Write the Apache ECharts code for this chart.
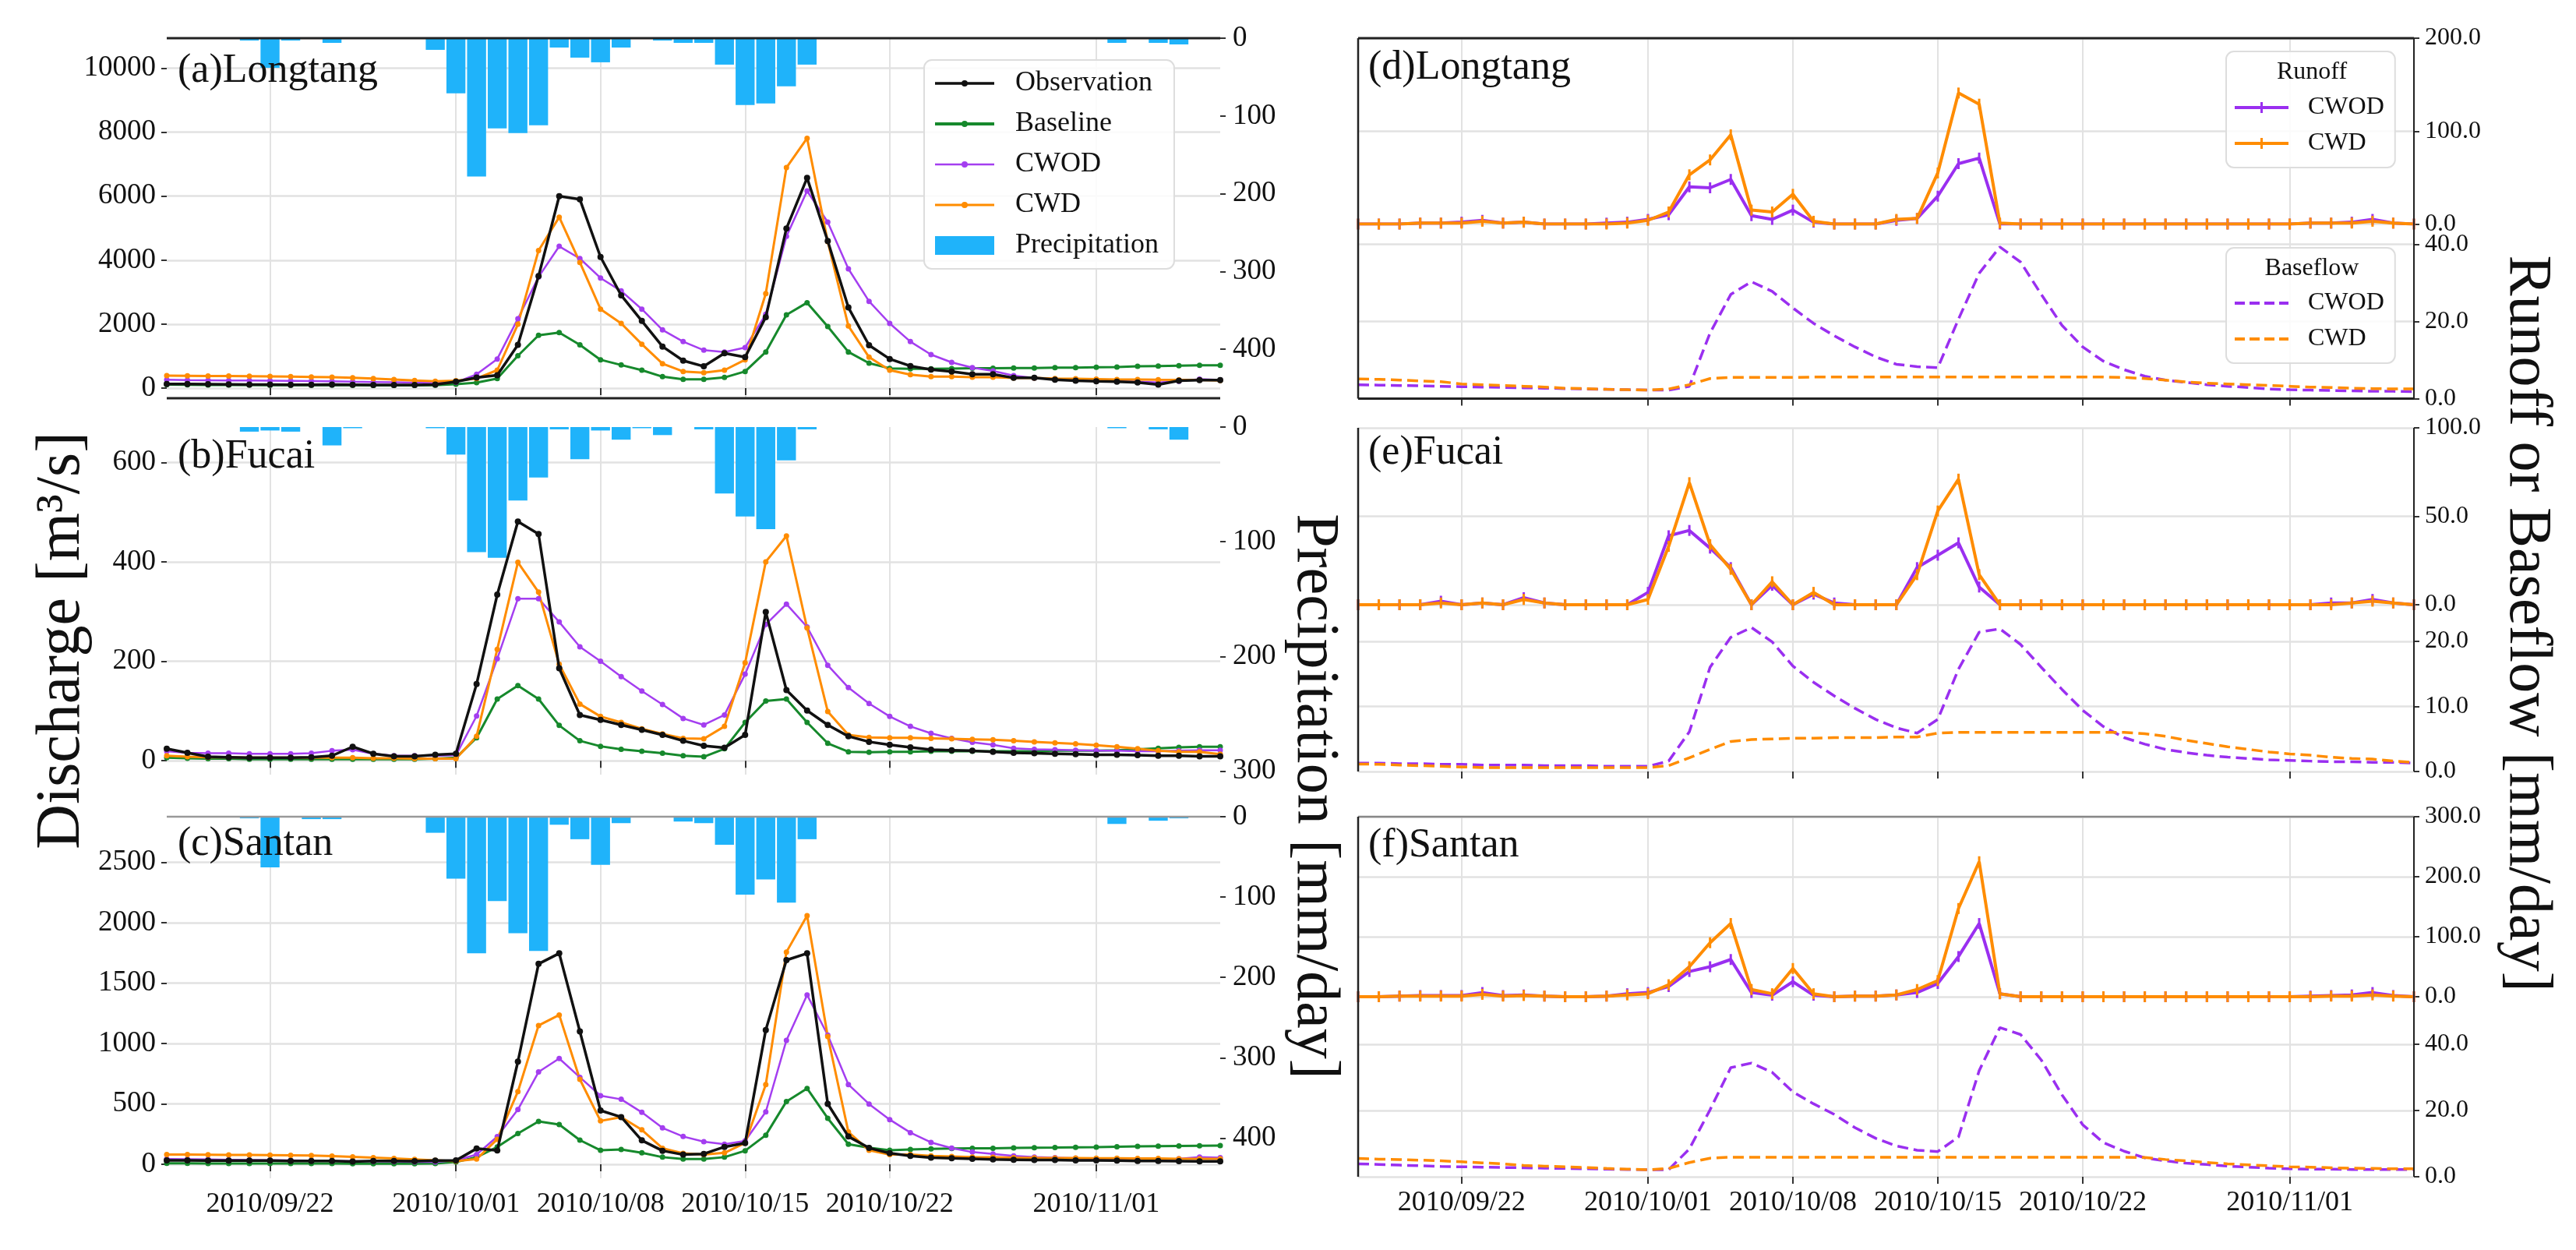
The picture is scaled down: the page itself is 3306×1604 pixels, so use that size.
<!DOCTYPE html>
<html>
<head>
<meta charset="utf-8">
<title>Longtang / Fucai / Santan</title>
<script src="https://cdn.jsdelivr.net/npm/echarts@6.0.0/dist/echarts.min.js"></script>
<style>
  html, body { margin: 0; padding: 0; background: #fff; }
  #main { width: 3306px; height: 1604px; }
</style>
</head>
<body>
<div id="main"></div>
<script>
// ---- data (daily, 2010/09/17 .. 2010/11/07) ----
const dates = [
  '2010/09/17','2010/09/18','2010/09/19','2010/09/20','2010/09/21','2010/09/22','2010/09/23',
  '2010/09/24','2010/09/25','2010/09/26','2010/09/27','2010/09/28','2010/09/29','2010/09/30',
  '2010/10/01','2010/10/02','2010/10/03','2010/10/04','2010/10/05','2010/10/06','2010/10/07',
  '2010/10/08','2010/10/09','2010/10/10','2010/10/11','2010/10/12','2010/10/13','2010/10/14',
  '2010/10/15','2010/10/16','2010/10/17','2010/10/18','2010/10/19','2010/10/20','2010/10/21',
  '2010/10/22','2010/10/23','2010/10/24','2010/10/25','2010/10/26','2010/10/27','2010/10/28',
  '2010/10/29','2010/10/30','2010/10/31','2010/11/01','2010/11/02','2010/11/03','2010/11/04',
  '2010/11/05','2010/11/06','2010/11/07'
];
const tickDates = ['2010/09/22','2010/10/01','2010/10/08','2010/10/15','2010/10/22','2010/11/01'];

// (a) Longtang discharge [m3/s] and precipitation [mm/day]
const obsA  = [130,125,120,115,110,110,105,105,110,105,100,100,100,110,200,330,400,1350,3500,6000,5900,4100,2900,2100,1300,860,680,1090,970,2220,4990,6570,4600,2520,1340,910,690,580,520,430,430,320,320,260,230,210,200,175,110,230,250,250];
const baseA = [110,105,100,95,95,90,90,90,95,90,85,85,85,90,120,170,300,1010,1650,1735,1350,885,722,560,357,276,276,333,520,1129,2290,2670,1925,1129,780,617,600,600,610,620,620,630,630,640,640,650,660,680,690,700,710,710];
const cwodA = [260,250,245,240,235,230,225,220,215,200,190,180,170,165,180,430,909,2170,3474,4433,4051,3443,3037,2468,1819,1453,1185,1129,1267,2307,4742,6164,5189,3727,2712,2022,1453,1047,804,641,536,390,317,280,256,230,215,200,175,212,280,256];
const cwdA  = [390,385,380,375,370,365,360,350,340,320,300,270,240,215,230,300,560,1997,4302,5345,3930,2468,2022,1372,763,520,479,560,885,2955,6894,7812,4580,1941,966,560,422,357,357,341,341,317,317,300,290,280,270,265,260,256,256,240];
const rainA = [0,0,0,0,3,38,3,0,6,0,0,0,0,15,71,178,116,122,112,12,25,31,12,0,3,6,6,34,86,84,62,34,0,0,0,0,0,0,0,0,0,0,0,0,0,0,6,0,6,8,0,0];

// (b) Fucai
const obsB  = [24,16,8,7,6,6,6,7,10,28,14,9,9,12,14,154,334,481,456,186,92,82,72,62,52,40,30,26,52,299,142,101,72,49,38,32,27,22,21,20,18,16,15,14,13,12,12,11,10,10,9,9];
const baseB = [6,5,4,4,3,3,3,3,3,3,3,3,3,4,6,46,124,151,124,71,40,29,23,19,15,10,8,24,77,120,124,77,35,18,17,18,18,19,19,19,19,19,19,20,20,20,21,23,25,27,28,28];
const cwodB = [19,16,15,15,14,14,14,15,20,22,14,10,10,10,11,90,205,326,326,279,229,200,169,140,113,85,72,92,174,274,315,269,192,147,115,89,69,55,45,37,32,25,23,22,21,20,20,19,19,20,21,21];
const cwdB  = [10,8,7,7,6,6,6,6,6,6,5,5,4,4,4,49,224,399,339,194,114,89,77,64,54,45,44,69,197,400,452,267,99,52,47,46,46,45,44,43,42,40,38,36,34,31,28,24,20,18,18,13];
const rainB = [0,0,0,0,4,3,4,0,16,1,0,0,0,1,24,109,114,64,44,2,28,3,11,1,7,0,2,58,78,89,29,2,0,0,0,0,0,0,0,0,0,0,0,0,0,0,1,0,2,11,0,0];

// (c) Santan
const obsC  = [32,32,30,30,30,30,28,28,28,22,28,28,26,30,32,130,115,850,1659,1746,1100,445,391,198,112,80,86,144,176,1112,1690,1746,500,230,135,92,70,55,50,45,40,38,36,35,33,32,30,28,27,26,25,25];
const baseC = [8,8,7,7,6,6,6,6,6,5,5,5,5,6,19,58,143,255,355,329,200,116,123,95,59,43,43,59,112,241,520,628,381,166,137,116,123,128,130,132,133,135,137,138,140,142,145,148,150,152,154,155];
const cwodC = [43,42,40,38,36,34,32,30,28,26,24,22,20,19,32,81,229,453,764,876,720,568,538,430,301,230,187,166,194,434,1026,1402,1069,660,499,370,262,181,134,101,86,70,60,55,50,45,45,40,40,45,60,55];
const cwdC  = [80,80,79,78,77,76,75,72,68,62,55,48,40,32,26,43,207,602,1149,1236,703,359,391,285,133,91,80,95,176,660,1757,2058,1058,267,116,80,80,70,65,60,58,55,53,52,51,50,50,48,48,46,45,45];
const rainC = [0,0,0,0,2,63,1,3,3,0,0,0,1,20,77,170,105,145,167,10,28,60,8,0,1,6,8,35,97,78,107,28,0,1,0,0,0,0,0,0,0,0,0,0,0,0,9,0,5,2,0,0];

// (d)-(f) runoff and baseflow [mm/day]
const runCwodD  = [0,0,0,1,1,2,4,1,2,0,0,0,1,2,5,10,40,39,48,9,5,15,2,0,0,0,4,6,30,65,71,0,0,0,0,0,0,0,0,0,0,0,0,0,0,0,1,1,2,5,1,0];
const runCwdD   = [0,0,0,1,1,1,3,1,2,0,0,0,0,1,4,13,53,69,96,15,13,32,3,0,0,0,5,6,55,141,129,1,0,0,0,0,0,0,0,0,0,0,0,0,0,0,1,1,1,3,1,0];
const baseCwodD = [3.6,3.5,3.4,3.3,3.2,3.1,3.0,2.9,2.8,2.7,2.6,2.5,2.4,2.3,2.2,2.2,3.2,17,27,30.3,27.8,23.5,19.5,16.3,13.4,10.8,8.9,8.3,8.0,20.6,32.5,39.3,35.4,27,19,13.4,9.7,7.5,5.8,4.8,4.2,3.6,3.2,2.9,2.5,2.3,2.2,2.1,2.0,1.9,1.9,1.8];
const baseCwdD  = [5.1,5.0,4.8,4.6,4.4,3.8,3.6,3.4,3.2,3.0,2.7,2.6,2.4,2.3,2.2,2.5,3.6,5.2,5.5,5.5,5.5,5.5,5.6,5.6,5.6,5.6,5.6,5.6,5.6,5.6,5.6,5.6,5.6,5.6,5.6,5.6,5.6,5.5,5.2,4.8,4.3,4.0,3.8,3.6,3.4,3.2,3.0,2.9,2.7,2.6,2.5,2.5];

const runCwodE  = [0,0,0,0,2,0,1,0,4,1,0,0,0,0,7,39,42,32,21,0,11,0,6,1,0,0,0,21,28,35,10,0,0,0,0,0,0,0,0,0,0,0,0,0,0,0,0,1,1,3,1,0];
const runCwdE   = [0,0,0,0,1,0,1,0,3,1,0,0,0,0,3,33,69,34,20,0,13,0,7,0,0,0,0,17,53,71,17,0,0,0,0,0,0,0,0,0,0,0,0,0,0,0,0,0,1,2,1,0];
const baseCwodE = [1.3,1.3,1.2,1.2,1.1,1.1,1.0,1.0,1.0,0.9,0.9,0.9,0.8,0.8,0.8,1.6,6.1,16,20.6,22.1,19.9,16.2,13.7,11.6,9.7,8.0,6.7,5.9,8.0,15.7,21.4,21.9,19.5,16,12.6,9.4,6.9,5.2,4.2,3.4,2.9,2.5,2.2,2.0,1.8,1.7,1.6,1.5,1.5,1.4,1.4,1.3];
const baseCwdE  = [1.15,1.1,1.0,0.9,0.8,0.7,0.6,0.6,0.6,0.6,0.6,0.6,0.6,0.6,0.6,0.9,2.1,3.4,4.6,4.9,5.0,5.1,5.1,5.2,5.2,5.2,5.3,5.3,5.9,6.0,6.0,6.0,6.0,6.0,6.0,6.0,6.0,6.0,5.8,5.4,4.8,4.3,3.8,3.4,3.0,2.7,2.5,2.2,2.0,1.9,1.6,1.4];

const runCwodF  = [0,0,1,2,2,2,7,2,3,1,0,0,1,5,7,17,42,50,62,7,2.5,25,2.5,0,1,1,3,7,22,67,122,5,0,0,0,0,0,0,0,0,0,0,0,0,0,0,1,2,3,7,2,0];
const runCwdF   = [0,0,1,1,1,1,4,1,2,1,0,0,1,3,5,20,50,90,122,12,5,47,5,0,1,1,3,12,27,147,225,5,0,0,0,0,0,0,0,0,0,0,0,0,0,0,0,1,1,3,1,0];
const baseCwodF = [3.9,3.7,3.5,3.3,3.1,3.0,2.9,2.8,2.7,2.6,2.5,2.4,2.3,2.2,2.1,2.1,8.4,20.2,32.9,34.3,31.5,25.6,22,18.8,14.8,11.6,9.3,8.0,7.6,12,32,45,42.9,35.2,24.7,15.7,10.3,7.7,5.7,4.8,4.1,3.7,3.2,2.9,2.6,2.4,2.3,2.3,2.2,2.2,2.2,2.2];
const baseCwdF  = [5.5,5.3,5.2,5.0,4.8,4.5,4.2,3.9,3.4,3.2,3.0,2.8,2.5,2.3,2.1,2.5,4.3,5.6,5.9,5.9,5.9,5.9,5.9,5.9,5.9,5.9,5.9,5.9,5.9,5.9,5.9,5.9,5.9,5.9,5.9,5.9,5.9,5.9,5.8,5.2,4.8,4.3,3.9,3.6,3.3,3.0,2.9,2.7,2.6,2.5,2.4,2.4];

// tick values
const qTicksA = [0, 2000, 4000, 6000, 8000, 10000];
const qTicksB = [0, 200, 400, 600];
const qTicksC = [0, 500, 1000, 1500, 2000, 2500];
const rainTicksA = [0, 100, 200, 300, 400];
const rainTicksB = [0, 100, 200, 300];
const rainTicksC = [0, 100, 200, 300, 400];

// ---- layout ----
const FONT = '"Liberation Serif", "Times New Roman", serif';
const INK = '#111';
const GRIDC = '#e2e2e2';
const COL = { obs: '#111111', base: '#16892c', cwod: '#a43ef0', cwd: '#ff8c00', rain: '#1fb3fa', rCwod: '#9a2ff0', rCwd: '#ff8c00' };
const LX = 214, LW = 1352;       // left column
const RX = 1743, RW = 1355;      // right column

const leftPanels = [
  { title: '(a)Longtang', top: 49,   bottom: 511,  q: [-317, 10940], qTicks: qTicksA, rainMax: 463, rainTicks: rainTicksA,
    obs: obsA, base: baseA, cwod: cwodA, cwd: cwdA, rain: rainA },
  { title: '(b)Fucai',    top: 548,  bottom: 994,  q: [-28, 671],    qTicks: qTicksB, rainMax: 303, rainTicks: rainTicksB,
    obs: obsB, base: baseB, cwod: cwodB, cwd: cwdB, rain: rainB },
  { title: '(c)Santan',   top: 1048, bottom: 1512, q: [-116, 2877],  qTicks: qTicksC, rainMax: 450, rainTicks: rainTicksC,
    obs: obsC, base: baseC, cwod: cwodC, cwd: cwdC, rain: rainC }
];
const rightPanels = [
  { title: '(d)Longtang', top: 49,   mid: 287.5, bottom: 511.5, runMax: 200, runTicks: [0, 100, 200], baseMax: 45.25, baseTicks: [0, 20, 40],
    runCwod: runCwodD, runCwd: runCwdD, baseCwod: baseCwodD, baseCwd: baseCwdD },
  { title: '(e)Fucai',    top: 549,  mid: 776,   bottom: 990,   runMax: 100, runTicks: [0, 50, 100], baseMax: 25.6, baseTicks: [0, 10, 20],
    runCwod: runCwodE, runCwd: runCwdE, baseCwod: baseCwodE, baseCwd: baseCwdE },
  { title: '(f)Santan',   top: 1048, mid: 1279,  bottom: 1510,  runMax: 300, runTicks: [0, 100, 200, 300], baseMax: 54.3, baseTicks: [0, 20, 40],
    runCwod: runCwodF, runCwd: runCwdF, baseCwod: baseCwodF, baseCwd: baseCwdF }
];

const isTick = (i, v) => tickDates.indexOf(v) !== -1;
const tickLine = { color: '#333', width: 2 };

function xAxisCfg(gi, showTicks, showLabels) {
  return {
    type: 'category', gridIndex: gi, data: dates, boundaryGap: false,
    axisLine: { show: false },
    axisTick: { show: showTicks, interval: isTick, length: 9, lineStyle: tickLine },
    axisLabel: { show: showLabels, interval: isTick, margin: 16, fontFamily: FONT, fontSize: 36, color: INK },
    splitLine: { show: true, interval: isTick, lineStyle: { color: GRIDC, width: 2 } }
  };
}
function yValue(gi, pos, lo, hi, ticks, opts) {
  opts = opts || {};
  return {
    type: 'value', gridIndex: gi, position: pos, min: lo, max: hi, inverse: !!opts.inverse,
    axisLine: { show: false },
    axisTick: { show: true, length: 7, customValues: ticks, lineStyle: tickLine },
    axisLabel: { customValues: ticks, margin: opts.margin || 14, fontFamily: FONT, fontSize: opts.fontSize || 37, color: INK,
                 formatter: opts.formatter || (v => String(v)) },
    splitLine: { show: !!opts.split, lineStyle: { color: GRIDC, width: 2.5 } }
  };
}
function lineSeries(name, data, gi, yi, color, width, extra) {
  return Object.assign({
    type: 'line', name: name, data: data, xAxisIndex: gi, yAxisIndex: yi,
    symbol: 'circle', symbolSize: 8, showSymbol: true,
    lineStyle: { color: color, width: width }, itemStyle: { color: color },
    emphasis: { disabled: true }, z: 3
  }, extra || {});
}

const grids = [], xAxes = [], yAxes = [], series = [];

leftPanels.forEach((p, k) => {
  const gi = grids.length;
  grids.push({ left: LX, width: LW, top: p.top, height: p.bottom - p.top });
  xAxes.push(xAxisCfg(gi, true, k === 2));
  const yi = yAxes.length;
  yAxes.push(yValue(gi, 'left', p.q[0], p.q[1], p.qTicks, { split: true }));
  yAxes.push(yValue(gi, 'right', 0, p.rainMax, p.rainTicks, { inverse: true, margin: 16 }));
  series.push({
    type: 'bar', name: 'Precipitation', data: p.rain, xAxisIndex: gi, yAxisIndex: yi + 1,
    barWidth: '92%', itemStyle: { color: COL.rain }, emphasis: { disabled: true }, z: 1
  });
  series.push(lineSeries('Observation', p.obs, gi, yi, COL.obs, 3.5, { z: 4 }));
  series.push(lineSeries('Baseline', p.base, gi, yi, COL.base, 3, { symbolSize: 7 }));
  series.push(lineSeries('CWOD', p.cwod, gi, yi, COL.cwod, 2.5, { symbolSize: 7 }));
  series.push(lineSeries('CWD', p.cwd, gi, yi, COL.cwd, 3, { symbolSize: 7 }));
});

const fmt1 = v => v.toFixed(1);
rightPanels.forEach((p, k) => {
  // runoff (upper part)
  const g1 = grids.length;
  grids.push({ left: RX, width: RW, top: p.top, height: p.mid - p.top });
  xAxes.push(xAxisCfg(g1, false, false));
  const y1 = yAxes.length;
  yAxes.push(yValue(g1, 'right', 0, p.runMax, p.runTicks, { split: true, fontSize: 32, formatter: fmt1 }));
  const tickMark = { symbol: 'rect', symbolSize: [3, 14] };
  series.push(lineSeries('CWOD runoff', p.runCwod, g1, y1, COL.rCwod, 4, tickMark));
  series.push(lineSeries('CWD runoff', p.runCwd, g1, y1, COL.rCwd, 4, tickMark));
  // baseflow (lower part)
  const g2 = grids.length;
  grids.push({ left: RX, width: RW, top: p.mid, height: p.bottom - p.mid });
  xAxes.push(xAxisCfg(g2, true, k === 2));
  const y2 = yAxes.length;
  yAxes.push(yValue(g2, 'right', 0, p.baseMax, p.baseTicks, { split: true, fontSize: 32, formatter: fmt1 }));
  series.push(lineSeries('CWOD baseflow', p.baseCwod, g2, y2, COL.rCwod, 3.5,
    { showSymbol: false, symbol: 'none', lineStyle: { color: COL.rCwod, width: 3.5, type: [14, 7] } }));
  series.push(lineSeries('CWD baseflow', p.baseCwd, g2, y2, COL.rCwd, 3.5,
    { showSymbol: false, symbol: 'none', lineStyle: { color: COL.rCwd, width: 3.5, type: [14, 7] } }));
});

// ---- frames and texts ----
const graphic = [];
function hline(x1, x2, y, color, w) {
  graphic.push({ type: 'line', silent: true, z: 50, shape: { x1: x1, y1: y, x2: x2, y2: y }, style: { stroke: color, lineWidth: w } });
}
function vline(x, y1, y2, color, w) {
  graphic.push({ type: 'line', silent: true, z: 50, shape: { x1: x, y1: y1, x2: x, y2: y2 }, style: { stroke: color, lineWidth: w } });
}
function text(str, x, y, size, rot, align) {
  graphic.push({ type: 'text', silent: true, z: 60, x: x, y: y, rotation: rot || 0,
    style: { text: str, fontFamily: FONT, fontSize: size, fill: INK, align: align || 'left', verticalAlign: 'middle' } });
}

hline(LX, LX + LW, 49, '#222', 3);
hline(LX, LX + LW, 511, '#222', 3);
hline(LX, LX + LW, 1048, '#999', 2.5);

hline(RX, RX + RW, 49, '#222', 3);
hline(RX, RX + RW, 511.5, '#222', 3);
vline(RX, 49, 511.5, '#222', 2.5);
vline(RX + RW, 49, 511.5, '#222', 2);
vline(RX, 549, 990, '#222', 2.5);
vline(RX + RW, 549, 990, '#222', 2);
hline(RX, RX + RW, 1048, '#888', 2.5);
vline(RX, 1048, 1510, '#222', 2.5);
vline(RX + RW, 1048, 1510, '#222', 2);

text('(a)Longtang', 228, 91, 52);
text('(b)Fucai', 228, 586, 52);
text('(c)Santan', 228, 1083, 52);
text('(d)Longtang', 1756, 87, 52);
text('(e)Fucai', 1756, 581, 52);
text('(f)Santan', 1756, 1085, 52);

text('Discharge [m\u00b3/s]', 80, 822, 80, Math.PI / 2, 'center');
text('Precipitation [mm/day]', 1686, 1022, 78, -Math.PI / 2, 'center');
text('Runoff or Baseflow [mm/day]', 3242, 800, 78, -Math.PI / 2, 'center');

text('Runoff', 2967, 93, 32, 0, 'center');
text('Baseflow', 2967, 345, 32, 0, 'center');

// legend icons: line with a small marker in the middle
const dotIcon = w => 'path://M0,' + (4 - w / 2) + ' L76,' + (4 - w / 2) + ' L76,' + (4 + w / 2) + ' L0,' + (4 + w / 2) +
  ' Z M34,4 A4,4 0 1 1 42,4 A4,4 0 1 1 34,4 Z';
const runIcon = 'path://M0,5 L69,5 L69,9 L0,9 Z M33,0 L36,0 L36,14 L33,14 Z';
const dashIcon = 'path://M0,0 L13,0 L13,4 L0,4 Z M19,0 L32,0 L32,4 L19,4 Z M38,0 L51,0 L51,4 L38,4 Z M57,0 L69,0 L69,4 L57,4 Z';

const legendText = { fontFamily: FONT, fontSize: 36, color: INK, padding: [0, 0, 0, 22] };
const smallLegendText = { fontFamily: FONT, fontSize: 32, color: INK, padding: [0, 0, 0, 20] };
const legendBox = { backgroundColor: 'rgba(255,255,255,0.85)', borderColor: '#dddddd', borderWidth: 2, borderRadius: 10, symbolKeepAspect: true };

const option = {
  animation: false,
  backgroundColor: '#ffffff',
  grid: grids,
  xAxis: xAxes,
  yAxis: yAxes,
  series: series,
  graphic: graphic,
  legend: [
    Object.assign({
      orient: 'vertical', left: 1186, top: 77, padding: [12, 20, 12, 14],
      itemWidth: 76, itemHeight: 24, itemGap: 16, selectedMode: false,
      data: [
        { name: 'Observation', icon: dotIcon(3.5) },
        { name: 'Baseline', icon: dotIcon(4) },
        { name: 'CWOD', icon: dotIcon(2.5) },
        { name: 'CWD', icon: dotIcon(3) },
        { name: 'Precipitation', icon: 'rect' }
      ],
      textStyle: legendText
    }, legendBox),
    Object.assign({
      orient: 'vertical', left: 2857, top: 66, padding: [56, 14, 15, 11],
      itemWidth: 69, itemHeight: 14, itemGap: 14, selectedMode: false,
      data: [{ name: 'CWOD runoff', icon: runIcon }, { name: 'CWD runoff', icon: runIcon }],
      formatter: n => n.split(' ')[0],
      textStyle: smallLegendText
    }, legendBox),
    Object.assign({
      orient: 'vertical', left: 2857, top: 318, padding: [55, 14, 15, 11],
      itemWidth: 69, itemHeight: 14, itemGap: 14, selectedMode: false,
      data: [{ name: 'CWOD baseflow', icon: dashIcon }, { name: 'CWD baseflow', icon: dashIcon }],
      formatter: n => n.split(' ')[0],
      textStyle: smallLegendText
    }, legendBox)
  ]
};

const chart = echarts.init(document.getElementById('main'), null, { renderer: 'canvas' });
chart.setOption(option);
</script>
</body>
</html>
